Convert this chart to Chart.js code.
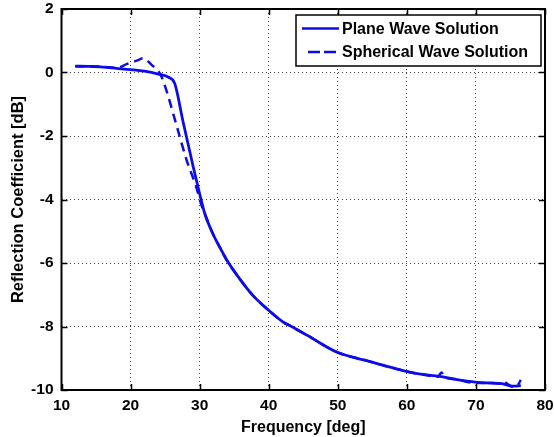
<!DOCTYPE html>
<html>
<head>
<meta charset="utf-8">
<script src="https://cdn.jsdelivr.net/npm/chart.js@4.4.0/dist/chart.umd.min.js"></script>
<style>
  html, body { margin: 0; padding: 0; background: #fff; }
</style>
</head>
<body>
<canvas id="chart" width="554" height="437"></canvas>
<script>
// plane wave curve
const planeFreq = [12, 14, 16, 18, 20, 22, 24, 25.5, 26.4, 27.6, 29.1, 30, 30.75, 31.9, 33.4, 33.9, 35.8, 37.7, 40, 42.1, 43.3, 45.6, 49.9, 54.1, 57, 59.9, 62, 64.7, 67, 69.9, 72, 73.8, 75.3, 76.5];
const planeValues = [0.2, 0.19, 0.17, 0.13, 0.09, 0.04, -0.05, -0.15, -0.35, -1.55, -3.0, -3.82, -4.45, -5.07, -5.7, -5.9, -6.5, -7.02, -7.49, -7.86, -8.0, -8.28, -8.81, -9.07, -9.25, -9.41, -9.5, -9.57, -9.66, -9.75, -9.78, -9.8, -9.88, -9.86];

// spherical wave curve
const sphFreq = [12, 14, 16, 18, 19.5, 21, 21.8, 23, 24.3, 25, 26.7, 28.1, 29.5, 30.3, 30.75, 31.9, 33.4, 33.9, 35.8, 37.7, 40, 42.1, 43.3, 45.6, 49.9, 54.1, 57, 59.9, 62, 64.5, 65, 65.5, 67, 69.9, 72, 73.5, 74, 74.5, 75.3, 76, 76.5];
const sphValues = [0.2, 0.2, 0.18, 0.15, 0.27, 0.38, 0.45, 0.25, -0.05, -0.44, -1.7, -2.75, -3.6, -4.2, -4.45, -5.07, -5.7, -5.9, -6.5, -7.02, -7.49, -7.86, -8.0, -8.28, -8.81, -9.07, -9.25, -9.41, -9.5, -9.58, -9.45, -9.6, -9.66, -9.78, -9.78, -9.8, -9.72, -9.8, -9.9, -9.86, -9.68];

const seriesNames = ['Plane Wave Solution', 'Spherical Wave Solution'];
const xTicks = [10, 20, 30, 40, 50, 60, 70, 80];
const yTicks = [-10, -8, -6, -4, -2, 0, 2];

const FONT = '"Liberation Sans", Arial, Helvetica, sans-serif';
const BLUE = '#0c0ce8';

const toPoints = (xs, ys) => xs.map((x, i) => ({ x: x, y: ys[i] }));

// box round the plot + matlab style inward ticks
const framePlugin = {
  id: 'frame',
  afterDatasetsDraw(chart) {
    const { ctx, chartArea: a, scales: { x, y } } = chart;
    ctx.save();
    ctx.strokeStyle = '#000';
    ctx.lineWidth = 1.5;
    ctx.beginPath();
    xTicks.forEach(v => {
      const px = Math.round(x.getPixelForValue(v)) + 0.5;
      ctx.moveTo(px, a.bottom); ctx.lineTo(px, a.bottom - 6);
      ctx.moveTo(px, a.top); ctx.lineTo(px, a.top + 6);
    });
    yTicks.forEach(v => {
      const py = Math.round(y.getPixelForValue(v)) + 0.5;
      ctx.moveTo(a.left, py); ctx.lineTo(a.left + 6, py);
      ctx.moveTo(a.right, py); ctx.lineTo(a.right - 6, py);
    });
    ctx.stroke();
    ctx.lineWidth = 2;
    ctx.strokeRect(a.left, a.top, a.right - a.left, a.bottom - a.top);
    ctx.restore();
  }
};

const legendBox = {
  id: 'legendBox',
  afterDraw(chart) {
    const { ctx, chartArea: a } = chart;
    const w = 245, h = 51;
    const left = a.right - w - 4, top = a.top + 6;
    ctx.save();
    ctx.fillStyle = '#fff';
    ctx.fillRect(left, top, w, h);
    ctx.strokeStyle = '#000';
    ctx.lineWidth = 1.5;
    ctx.strokeRect(left, top, w, h);
    ctx.font = 'bold 16px ' + FONT;
    ctx.textBaseline = 'middle';
    chart.data.datasets.forEach((ds, i) => {
      const yy = top + 13.5 + i * 23.4;
      ctx.strokeStyle = ds.borderColor;
      ctx.lineWidth = 2.5;
      ctx.beginPath();
      if (ds.borderDash) {
        ctx.setLineDash([12, 4]);
        ctx.moveTo(left + 12, yy); ctx.lineTo(left + 41, yy);
      } else {
        ctx.moveTo(left + 6, yy); ctx.lineTo(left + 43, yy);
      }
      ctx.stroke();
      ctx.setLineDash([]);
      ctx.fillStyle = '#000';
      ctx.fillText(ds.label, left + 46, yy + 1);
    });
    ctx.restore();
  }
};

new Chart(document.getElementById('chart').getContext('2d'), {
  type: 'line',
  data: {
    datasets: [
      {
        label: seriesNames[0],
        data: toPoints(planeFreq, planeValues),
        borderColor: BLUE,
        borderWidth: 2.8,
        pointRadius: 0,
        cubicInterpolationMode: 'monotone'
      },
      {
        label: seriesNames[1],
        data: toPoints(sphFreq, sphValues),
        borderColor: BLUE,
        borderWidth: 2.5,
        borderDash: [9, 6],
        pointRadius: 0,
        cubicInterpolationMode: 'monotone'
      }
    ]
  },
  options: {
    responsive: false,
    animation: false,
    layout: { padding: { left: 0, right: 9, top: 9, bottom: 0 } },
    plugins: {
      legend: { display: false },
      tooltip: { enabled: false }
    },
    scales: {
      x: {
        type: 'linear',
        min: 10,
        max: 80,
        afterBuildTicks: s => { s.ticks = xTicks.map(v => ({ value: v })); },
        afterFit: s => { s.height = 47; s.paddingLeft = 0; s.paddingRight = 0; },
        grid: { color: 'rgba(0,0,0,0.75)', lineWidth: 1, drawTicks: false },
        border: { display: false, dash: [1, 3] },
        ticks: { color: '#000', padding: 6, maxRotation: 0, font: { family: FONT, size: 15.5, weight: 'bold' } },
        title: { display: true, text: 'Frequency [deg]', color: '#000', padding: { top: 1, bottom: 0 }, font: { family: FONT, size: 16, weight: 'bold' } }
      },
      y: {
        type: 'linear',
        min: -10,
        max: 2,
        afterBuildTicks: s => { s.ticks = yTicks.map(v => ({ value: v })); },
        afterFit: s => { s.width = 61.5; s.paddingTop = 0; s.paddingBottom = 0; },
        grid: { color: 'rgba(0,0,0,0.75)', lineWidth: 1, drawTicks: false },
        border: { display: false, dash: [1, 3] },
        ticks: { color: '#000', padding: 8, font: { family: FONT, size: 15.5, weight: 'bold' } },
        title: { display: true, text: 'Reflection Coefficient [dB]', color: '#000', padding: { top: 9, bottom: 4 }, font: { family: FONT, size: 16.5, weight: 'bold' } }
      }
    }
  },
  plugins: [framePlugin, legendBox]
});
</script>
</body>
</html>
